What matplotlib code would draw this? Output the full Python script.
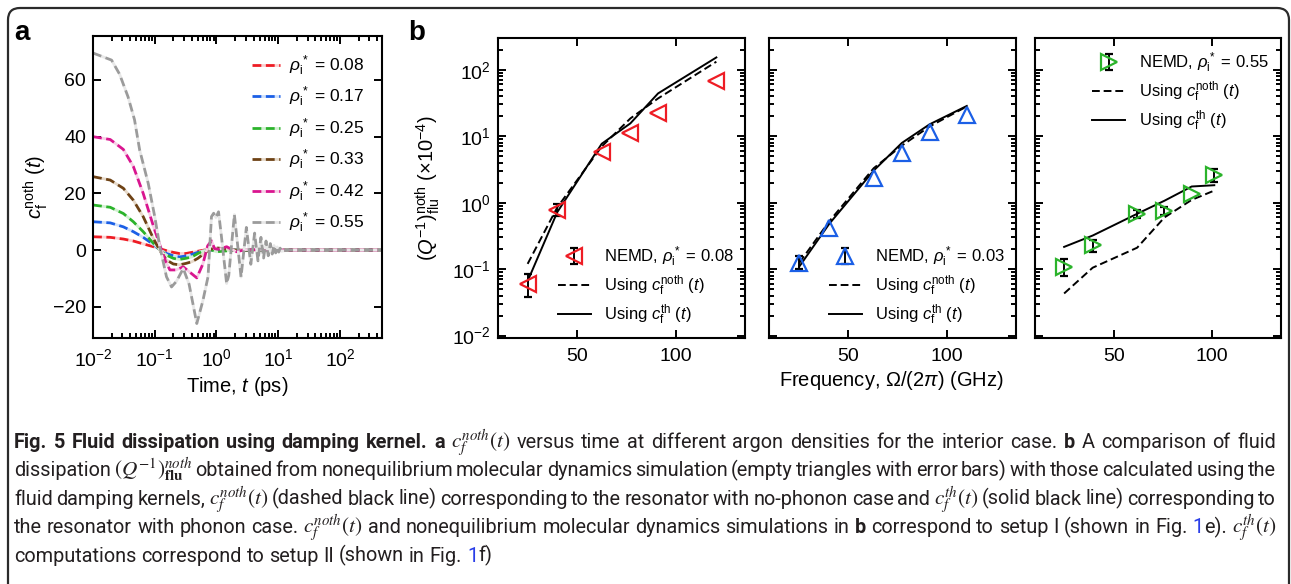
import re
import numpy as np
import matplotlib
matplotlib.use('Agg')
import matplotlib.pyplot as plt
from matplotlib.patches import FancyBboxPatch
from matplotlib.transforms import IdentityTransform
from matplotlib.ticker import LogLocator, NullFormatter, FixedLocator

# ---- panel a : damping kernel c_f^noth(t) ----
t_smooth = [0.01, 0.019, 0.031, 0.045, 0.065, 0.095, 0.12, 0.155, 0.2, 0.25,
            0.32, 0.4, 0.5, 0.63, 0.79, 1.0, 2.0, 480]
c_008 = [4.7, 4.5, 3.9, 3.2, 2.2, 1.2, 0.5, -0.2, -0.8, -1.2,
         -1.2, -0.8, -0.4, 0.0, 0.2, 0.1, 0.0, 0.0]
c_017 = [10.0, 9.6, 8.2, 6.5, 4.5, 2.0, 0.2, -1.2, -2.0, -2.4,
         -2.1, -1.5, -0.8, -0.2, 0.0, -0.1, 0.0, 0.0]
c_025 = [15.9, 15.1, 12.9, 10.0, 6.5, 2.4, 0.2, -1.8, -2.9, -3.3,
         -2.9, -2.4, -1.2, -0.2, 0.2, -0.6, 0.0, 0.0]
c_033 = [25.9, 24.7, 21.8, 17.6, 11.8, 4.1, 0.0, -3.5, -4.9, -5.2,
         -4.7, -4.1, -2.9, -1.2, 0.3, 0.8, 0.0, 0.0]

t_042 = [0.01, 0.019, 0.031, 0.045, 0.065, 0.095, 0.12, 0.15, 0.176, 0.22,
         0.29, 0.38, 0.48, 0.6, 0.72, 0.83, 0.93, 1.1, 1.46, 2.1, 3.0, 10, 480]
c_042 = [40.0, 39.0, 35.5, 29.5, 20.0, 8.5, 2.0, -4.0, -7.0, -7.0,
         -5.9, -8.0, -9.8, -5.0, 1.5, 3.3, 0.5, 0.3, 1.2, -0.6, 0.2, 0.0, 0.0]

t_055 = [0.01, 0.02, 0.027, 0.037, 0.047, 0.057, 0.0785, 0.1, 0.121, 0.155,
         0.187, 0.225, 0.29, 0.36, 0.48, 0.6, 0.73, 0.83, 0.9, 0.98, 1.08,
         1.2, 1.46, 1.58, 1.95, 2.5, 3.05, 3.6, 4.15, 4.7, 5.25, 5.8, 6.35,
         6.9, 7.45, 8.0, 8.55, 9.1, 9.65, 10.2, 10.75, 11.3, 14, 480]
c_055 = [69.5, 67.0, 62.0, 54.0, 46.0, 35.3, 23.5, 11.8, 1.2, -9.4,
         -13.0, -11.0, -6.5, -12.0, -25.9, -18.0, -9.4, 11.8, 13.0, 11.5, 13.5,
         5.0, -11.8, -9.0, 12.5, -9.5, 8.0, -5.0, 6.0, -3.8, 4.5, -2.8, 3.2,
         -2.0, 2.3, -1.4, 1.6, -1.0, 1.1, -0.7, 0.7, -0.4, 0.0, 0.0]

labels_a = ['0.08', '0.17', '0.25', '0.33', '0.42', '0.55']
colors_a = ['#ee1c24', '#1b5fe6', '#2bb32b', '#6e4215', '#d9158f', '#9b9b9b']
gaps_a = ['#fbd0d0', '#cfe0fb', '#d2f0d2', '#e6d9c9', '#f7cfe6', '#e8e8e8']

# ---- panel b : fluid dissipation (x1e-4) vs frequency (GHz) ----
freq_08 = [25.0, 40.0, 62.5, 77.0, 91.0, 120.5]
nemd_08 = [0.06, 0.78, 5.8, 11.1, 22.3, 67.0]
lo_08 = [0.038, 0.62, 5.4, 10.5, 21.2, 64.0]
hi_08 = [0.085, 0.95, 6.2, 11.7, 23.4, 70.0]
bars_08 = [True, True, False, False, False, False]
noth_08 = [0.12, 0.85, 7.0, 18.5, 37.0, 132.0]
th_08 = [0.066, 0.72, 7.7, 15.6, 44.0, 153.0]

freq_03 = [25.4, 40.4, 63.0, 77.2, 91.3, 110.1]
nemd_03 = [0.123, 0.41, 2.36, 5.55, 11.4, 20.6]
lo_03 = [0.10, 0.38, 2.2, 5.2, 10.8, 19.6]
hi_03 = [0.155, 0.44, 2.5, 5.9, 12.0, 21.6]
bars_03 = [True, False, False, False, False, False]
noth_03 = [0.125, 0.52, 3.3, 7.2, 14.0, 28.0]
th_03 = [0.11, 0.476, 3.04, 7.9, 15.1, 28.5]

freq_55 = [24.8, 39.3, 61.9, 75.8, 89.6, 101.1]
nemd_55 = [0.109, 0.23, 0.675, 0.757, 1.35, 2.62]
lo_55 = [0.079, 0.18, 0.58, 0.66, 1.25, 2.05]
hi_55 = [0.14, 0.275, 0.78, 0.86, 1.45, 3.2]
bars_55 = [True, True, True, True, False, True]
noth_55 = [0.043, 0.105, 0.21, 0.6, 1.1, 1.52]
th_55 = [0.216, 0.32, 0.68, 1.07, 1.75, 1.83]

caption = [
    "**Fig. 5 Fluid dissipation using damping kernel. a** $c_f^{noth}(t)$ versus time at different argon densities for the interior case. **b** A comparison of fluid",
    "dissipation $(Q^{-1})^{noth}_{\\mathbf{flu}}$ obtained from nonequilibrium molecular dynamics simulation (empty triangles with error bars) with those calculated using the",
    "fluid damping kernels, $c_f^{noth}(t)$ (dashed black line) corresponding to the resonator with no-phonon case and $c_f^{th}(t)$ (solid black line) corresponding to",
    "the resonator with phonon case. $c_f^{noth}(t)$ and nonequilibrium molecular dynamics simulations in **b** correspond to setup I (shown in Fig. {1}e). $c_f^{th}(t)$",
    "computations correspond to setup II (shown in Fig. {1}f)",
]

plt.rcParams['font.family'] = ['Liberation Sans', 'DejaVu Sans']
plt.rcParams['mathtext.fontset'] = 'custom'
plt.rcParams['mathtext.rm'] = 'Liberation Sans'
plt.rcParams['mathtext.it'] = 'Liberation Sans:italic'
plt.rcParams['mathtext.bf'] = 'Liberation Sans:bold'
plt.rcParams['axes.linewidth'] = 1.5

W, H = 1291, 584
fig = plt.figure(figsize=(W / 100, H / 100), dpi=100)
renderer = fig.canvas.get_renderer()


def px_axes(left, top, right, bottom):
    return fig.add_axes([left / W, 1 - bottom / H, (right - left) / W, (bottom - top) / H])


def style_ticks(ax):
    ax.tick_params(which='both', direction='in', top=True, right=True,
                   width=1.4, labelsize=14, colors='black')
    ax.tick_params(which='major', length=6, pad=5)
    ax.tick_params(which='minor', length=3.5)


# rounded frame around the whole figure
frame = FancyBboxPatch((8, -30), 1281, H - 8 + 30, boxstyle='round,pad=0,rounding_size=12',
                       transform=IdentityTransform(), fill=False, lw=1.6, ec='#2b2b2b')
fig.add_artist(frame)

# ---- panel a ----
ax = px_axes(93, 36, 382, 338)
series_t = [t_smooth, t_smooth, t_smooth, t_smooth, t_042, t_055]
series_c = [c_008, c_017, c_025, c_033, c_042, c_055]
for tt, cc, lab, col, gcol in zip(series_t, series_c, labels_a, colors_a, gaps_a):
    ax.plot(tt, cc, ls=(0, (3.2, 1.6)), lw=2.0, color=col, gapcolor=gcol,
            label=r'$\rho_\mathrm{i}^*$ = ' + lab)
ax.set_xscale('log')
ax.set_xlim(0.01, 480)
ax.set_ylim(-31, 75.5)
ax.set_yticks([-20, 0, 20, 40, 60])
ax.xaxis.set_major_locator(FixedLocator([1e-2, 1e-1, 1e0, 1e1, 1e2]))
ax.xaxis.set_minor_locator(LogLocator(base=10, subs=np.arange(2, 10), numticks=20))
ax.xaxis.set_minor_formatter(NullFormatter())
style_ticks(ax)
ax.tick_params(axis='x', pad=7)
ax.legend(loc='upper right', frameon=False, fontsize=12.5, handlelength=1.6,
          handletextpad=0.55, labelspacing=0.41, borderaxespad=0.6)
fig.text(36 / W, 1 - 187 / H, r'$c_\mathrm{f}^\mathrm{noth}\ (t)$', rotation=90,
         ha='center', va='center', fontsize=14.5)
fig.text(237 / W, 1 - 386 / H, r'Time, $t$ (ps)', ha='center', va='center', fontsize=14.5)
fig.text(14 / W, 1 - 33 / H, 'a', fontsize=20, fontweight='bold', ha='left', va='center')

# ---- panel b ----
panels_b = [
    (498, 745, freq_08, nemd_08, lo_08, hi_08, bars_08, noth_08, th_08, '<', '#ee1c24', '0.08', 'lower right'),
    (769, 1016, freq_03, nemd_03, lo_03, hi_03, bars_03, noth_03, th_03, '^', '#1b5fe6', '0.03', 'lower right'),
    (1035, 1281, freq_55, nemd_55, lo_55, hi_55, bars_55, noth_55, th_55, '>', '#2bb32b', '0.55', 'upper right'),
]
for i, (l, r, f, y, lo, hi, bars, yn, yt, mk, col, rho, loc) in enumerate(panels_b):
    axb = px_axes(l, 38, r, 338)
    y = np.array(y)
    yerr = [y - np.array(lo), np.array(hi) - y]
    eb = axb.errorbar(f, y, yerr=yerr, errorevery=bars, fmt=mk, ms=11, mfc='none',
                      mec=col, mew=1.6, ecolor='black', elinewidth=1.4, capsize=3,
                      capthick=1.4, zorder=3)
    ln1, = axb.plot(f, yn, ls=(0, (4, 2)), lw=1.4, color='black')
    ln2, = axb.plot(f, yt, ls='-', lw=1.4, color='black')
    axb.set_yscale('log')
    axb.set_xlim(10, 135)
    axb.set_ylim(0.0092, 300)
    axb.set_xticks([50, 100])
    axb.yaxis.set_major_locator(LogLocator(base=10, numticks=10))
    axb.yaxis.set_minor_locator(LogLocator(base=10, subs=np.arange(2, 10), numticks=20))
    axb.yaxis.set_minor_formatter(NullFormatter())
    style_ticks(axb)
    axb.tick_params(axis='x', pad=7)
    if i > 0:
        axb.tick_params(axis='y', labelleft=False)
    axb.legend([eb, ln1, ln2],
               [r'NEMD, $\rho_\mathrm{i}^*$ = ' + rho,
                r'Using $c_\mathrm{f}^\mathrm{noth}\ (t)$',
                r'Using $c_\mathrm{f}^\mathrm{th}\ (t)$'],
               loc=loc, frameon=False, fontsize=12, handlelength=2.0,
               handletextpad=0.8, labelspacing=0.28,
               borderaxespad=0.25 if loc == 'lower right' else 0.35)

fig.text(428 / W, 1 - 188 / H, r'$(Q^{-1})^\mathrm{noth}_\mathrm{flu}\ (\times10^{-4})$',
         rotation=90, ha='center', va='center', fontsize=14.5)
fig.text(891 / W, 1 - 381 / H, r'Frequency, Ω/(2$\pi$) (GHz)', ha='center', va='center',
         fontsize=14.5)
fig.text(408 / W, 1 - 33 / H, 'b', fontsize=20, fontweight='bold', ha='left', va='center')

# ---- caption, justified line by line ----
cap_font = 'Roboto'
probe = fig.text(0, 0, 'computations correspond to setup II (shown in Fig. 1f)',
                 fontsize=13, family=cap_font)
cap_size = 13 * 478 / probe.get_window_extent(renderer).width
probe.remove()


def caption_line(text, baseline, justify=True):
    words, bold = [], False
    for tok in text.split(' '):
        tb = bold
        if tok.startswith('**'):
            tok, tb, bold = tok[2:], True, True
        if tok.endswith('**'):
            tok, bold = tok[:-2], False
        runs = []
        for part in re.split(r'(\$[^$]+\$|\{[^}]*\})', tok):
            if not part:
                continue
            kw = dict(fontsize=cap_size, family=cap_font, color='#231f20',
                      fontweight='bold' if tb else 'normal')
            if part.startswith('$'):
                kw['math_fontfamily'] = 'stix'
                kw['fontsize'] = cap_size + 1
            if part.startswith('{'):
                part = part[1:-1]
                kw['color'] = '#2a3ee8'
            runs.append(fig.text(0, H - baseline, part, transform=IdentityTransform(),
                                 va='baseline', ha='left', **kw))
        words.append(runs)
    widths = [[r_.get_window_extent(renderer).width for r_ in w] for w in words]
    total = sum(sum(w) for w in widths)
    x0, x1 = 14, 1276
    gap = (x1 - x0 - total) / (len(words) - 1) if justify else cap_size * 0.34
    x = x0
    for runs, ws in zip(words, widths):
        for r_, w_ in zip(runs, ws):
            r_.set_x(x)
            x += w_
        x += gap


for k, line in enumerate(caption):
    caption_line(line, 448 + 28.4 * k, justify=k < len(caption) - 1)

fig.savefig('out.png', dpi=100)
